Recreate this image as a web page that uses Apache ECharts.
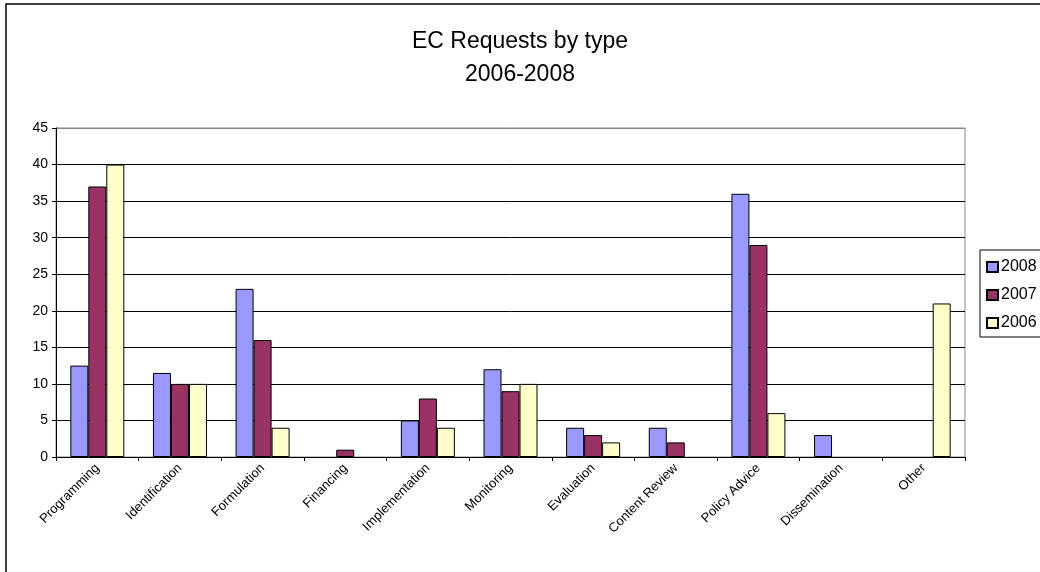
<!DOCTYPE html>
<html>
<head>
<meta charset="utf-8">
<script src="https://cdn.jsdelivr.net/npm/echarts@6/dist/echarts.min.js"></script>
<style>
  html, body { margin: 0; padding: 0; background: #fff; }
  #chart { width: 1040px; height: 572px; }
</style>
</head>
<body>
<div id="chart"></div>
<script>
  'use strict'

  var categories = ['Programming', 'Identification', 'Formulation', 'Financing', 'Implementation',
    'Monitoring', 'Evaluation', 'Content Review', 'Policy Advice', 'Dissemination', 'Other'];
  var data2008 = [12.5, 11.5, 23, 0, 5, 12, 4, 4, 36, 3, 0];
  var data2007 = [37, 10, 16, 1, 8, 9, 3, 2, 29, 0, 0];
  var data2006 = [40, 10, 4, 0, 4, 10, 2, 0, 6, 0, 21];
  var yTicks = [0, 5, 10, 15, 20, 25, 30, 35, 40, 45];

  var font = 'Liberation Sans, Arial, sans-serif';

  function barSeries(name, values, color) {
    return {
      name: name,
      type: 'bar',
      data: values.map(function (v) { return v === 0 ? null : v; }),
      barWidth: 18,
      barGap: '0%',
      itemStyle: { color: color, borderColor: '#000', borderWidth: 1 },
      emphasis: { disabled: true }
    };
  }

  var chart = echarts.init(document.getElementById('chart'), null, { renderer: 'canvas' });
  var option = {
    animation: false,
    backgroundColor: '#fff',
    textStyle: { fontFamily: font },
    title: {
      text: 'EC Requests by type\n2006-2008',
      left: 'center',
      top: 20,
      textStyle: { fontFamily: font, fontSize: 23, fontWeight: 'normal', color: '#000', lineHeight: 33 }
    },
    graphic: [{
      type: 'rect',
      shape: { x: 6, y: 4, width: 1200, height: 800 },
      style: { fill: null, stroke: '#000', lineWidth: 1.5 },
      silent: true
    }],
    legend: {
      orient: 'vertical',
      left: 980,
      top: 250,
      padding: [9, 12, 6, 6],
      itemGap: 12,
      itemWidth: 11,
      itemHeight: 10,
      icon: 'rect',
      borderColor: '#000',
      borderWidth: 1,
      textStyle: { fontFamily: font, fontSize: 16, color: '#000', padding: [0, 0, 0, -2] },
      data: ['2008', '2007', '2006']
    },
    grid: {
      left: 56, right: 75, top: 128, bottom: 115,
      show: true, borderColor: '#888', borderWidth: 1, backgroundColor: '#fff'
    },
    xAxis: {
      type: 'category',
      data: categories,
      axisLine: { lineStyle: { color: '#000', width: 1 } },
      axisTick: { show: true, alignWithLabel: false, length: 4, lineStyle: { color: '#000' } },
      axisLabel: { rotate: 45, fontSize: 13, color: '#000', fontFamily: font, margin: 9, interval: 0 }
    },
    yAxis: {
      type: 'value',
      min: yTicks[0],
      max: yTicks[yTicks.length - 1],
      interval: 5,
      axisLine: { show: true, lineStyle: { color: '#000', width: 1 } },
      axisTick: { show: true, length: 4, lineStyle: { color: '#000' } },
      axisLabel: { fontSize: 14, color: '#000', fontFamily: font, margin: 8 },
      splitLine: {
        show: true,
        lineStyle: { color: ['#000', '#000', '#000', '#000', '#000', '#000', '#000', '#000', '#000', '#888'], width: 1 }
      }
    },
    series: [
      barSeries('2008', data2008, '#9999FF'),
      barSeries('2007', data2007, '#993366'),
      barSeries('2006', data2006, '#FFFFCC')
    ]
  };
  chart.setOption(option);
</script>
</body>
</html>
